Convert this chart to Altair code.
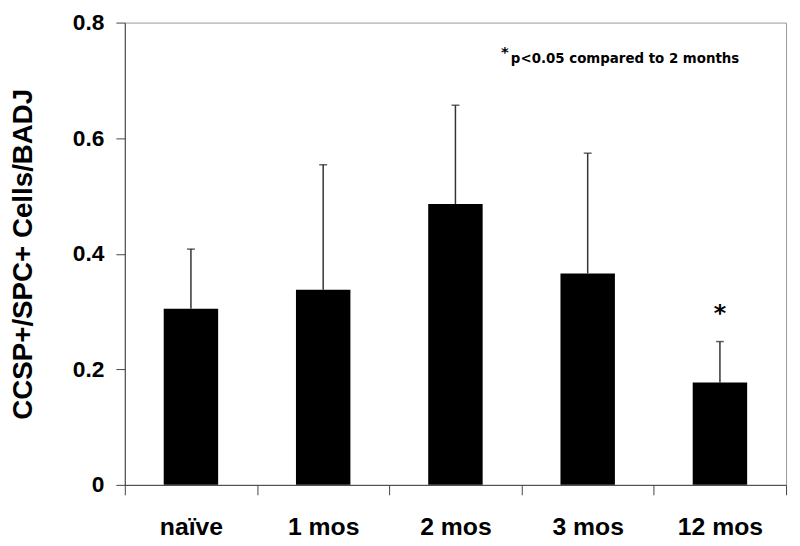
import altair as alt
import pandas as pd

categories = ["naïve", "1 mos", "2 mos", "3 mos", "12 mos"]
means = [0.305, 0.3375, 0.486, 0.366, 0.177]
upper = [0.408, 0.554, 0.657, 0.574, 0.248]

star_cat = ["12 mos"]
star_y = [0.284]
note_text = "p<0.05 compared to 2 months"

df = pd.DataFrame({"cat": categories, "mean": means, "upper": upper})
star_df = pd.DataFrame({"cat": star_cat, "y": star_y, "t": ["*"]})

FONT = "Liberation Sans"

xenc = alt.X(
    "cat:N",
    sort=categories,
    scale=alt.Scale(paddingInner=0, paddingOuter=0),
    axis=alt.Axis(
        title=None,
        labelAngle=0,
        tickBand="extent",
        tickSize=10,
        tickColor="#444",
        domainColor="#444",
        labelFont=FONT,
        labelFontSize=25,
        labelFontWeight="bold",
        labelColor="black",
        labelPadding=20,
        labelBaseline="top",
    ),
)
yscale = alt.Scale(domain=[0, 0.8], nice=False)
yaxis = alt.Axis(
    title="CCSP+/SPC+ Cells/BADJ",
    values=[0, 0.2, 0.4, 0.6, 0.8],
    format=".1~f",
    grid=False,
    tickSize=9,
    tickColor="#444",
    domainColor="#444",
    labelFont=FONT,
    labelFontSize=23,
    labelFontWeight="bold",
    labelColor="black",
    labelPadding=12,
    titleFont=FONT,
    titleFontSize=28,
    titleFontWeight="bold",
    titleColor="black",
    titleX=-116,
    titleBaseline="top",
)

base = alt.Chart(df)
bars = base.mark_bar(color="black", size=55).encode(
    x=xenc, y=alt.Y("mean:Q", scale=yscale, axis=yaxis)
)
rules = base.mark_rule(color="#333", strokeWidth=1.5).encode(
    x=alt.X("cat:N", sort=categories), y="mean:Q", y2="upper:Q"
)
caps = base.mark_tick(color="#222", size=8, thickness=1.5, orient="horizontal").encode(
    x=alt.X("cat:N", sort=categories), y="upper:Q"
)
star = alt.Chart(star_df).mark_text(
    font="DejaVu Sans", fontSize=24, fontWeight="bold", color="black", baseline="alphabetic"
).encode(x=alt.X("cat:N", sort=categories), y="y:Q", text="t:N")

note_star = alt.Chart(pd.DataFrame({"t": ["*"]})).mark_text(
    font="DejaVu Sans", fontSize=15, fontWeight="bold", color="black", align="left", baseline="top"
).encode(x=alt.value(380), y=alt.value(23), text="t:N")
note = alt.Chart(pd.DataFrame({"t": [note_text]})).mark_text(
    font="DejaVu Sans", fontSize=13.5, fontWeight="bold", color="black", align="left", baseline="alphabetic"
).encode(x=alt.value(390), y=alt.value(41), text="t:N")

chart = (
    alt.layer(bars, rules, caps, star, note_star, note)
    .properties(
        width=668,
        height=467,
        autosize=alt.AutoSizeParams(type="none"),
        padding={"left": 118, "top": 12, "right": 6, "bottom": 58},
    )
    .configure_view(stroke="#999", strokeWidth=1)
)

chart.save("out.html", embed_options={"renderer": "svg", "actions": False})
